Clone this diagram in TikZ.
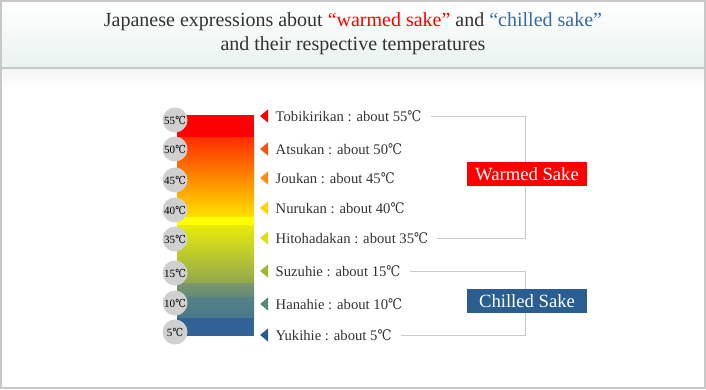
\documentclass[tikz,border=0pt]{standalone}
\usepackage{fontspec}
\setmainfont{Liberation Serif}
\newfontfamily\symfont{DejaVu Serif}
\usetikzlibrary{positioning,shapes.geometric}
\newcommand{\celsius}{{\symfont\scalebox{0.85}[1]{℃}}}
\tikzset{
	temp/.style    = {circle, fill=dotgray, minimum size=18.75pt, inner sep=0pt,
		font=\fontsize{8.3}{9}\selectfont, text=black},
	tri/.style     = {isosceles triangle, isosceles triangle apex angle=80,
		shape border rotate=180, fill=#1, minimum height=6pt, inner sep=0pt},
	lab/.style     = {inner sep=0pt, text=textgray, font=\fontsize{11}{12}\selectfont},
	group/.style   = {fill=#1, text=white, minimum width=90pt, minimum height=18pt,
		inner sep=0pt, font=\fontsize{14}{14}\selectfont},
	bracket/.style = {draw=rulegray, line width=0.75pt}
}
\definecolor{sakered}{RGB}{255,0,0}
\definecolor{sakeblue}{RGB}{42,94,145}
\definecolor{coldblue}{RGB}{55,105,160}
\definecolor{textgray}{RGB}{51,51,51}
\definecolor{rulegray}{RGB}{200,200,200}
\definecolor{headmint}{RGB}{233,243,240}
\definecolor{dotgray}{RGB}{208,208,208}
% bar and marker colours
\definecolor{hotA}{RGB}{255,45,0}
\definecolor{hotB}{RGB}{255,225,0}
\definecolor{yel}{RGB}{255,255,0}
\definecolor{midA}{RGB}{232,235,10}
\definecolor{midB}{RGB}{145,168,80}
\definecolor{coolA}{RGB}{125,152,108}
\definecolor{coolB}{RGB}{98,136,122}
\definecolor{coldA}{RGB}{86,130,132}
\definecolor{coldB}{RGB}{72,120,140}
\definecolor{icy}{RGB}{48,98,150}
\definecolor{mk2}{RGB}{255,80,20}
\definecolor{mk3}{RGB}{255,140,20}
\definecolor{mk4}{RGB}{255,210,0}
\definecolor{mk5}{RGB}{215,225,20}
\definecolor{mk6}{RGB}{160,185,50}
\definecolor{mk7}{RGB}{90,135,120}
\definecolor{mk8}{RGB}{40,90,150}

\begin{document}
\begin{tikzpicture}[x=0.75pt, y=-0.75pt, node distance=5.25pt]
		\useasboundingbox (0,0) rectangle (706,389);
		% header
		\shade[top color=white, bottom color=headmint] (1,1) rectangle (705,67);
		\shade[top color=black!4, bottom color=white] (1,69) rectangle (705,88);
		\draw[rulegray, line width=1.2pt] (1,68) -- (705,68);
		\draw[rulegray, line width=1.5pt] (0.75,0.75) rectangle (705.25,388.25);
		\node[align=center, text=textgray, font=\fontsize{15}{18}\selectfont] (title) at (353,34)
		{Japanese expressions about \textcolor{sakered}{“warmed sake”} and \textcolor{coldblue}{“chilled sake”}\\
			and their respective temperatures};
		
		% temperature bar
		\fill[sakered] (177,115) rectangle (254,137);
		\shade[top color=hotA, bottom color=hotB] (177,137) rectangle (254,217);
		\fill[yel] (177,217) rectangle (254,225);
		\shade[top color=midA, bottom color=midB] (177,225) rectangle (254,283);
		\shade[top color=coolA, bottom color=coolB] (177,283) rectangle (254,297);
		\shade[top color=coldA, bottom color=coldB] (177,297) rectangle (254,318);
		\fill[icy] (177,318) rectangle (254,336);
		
		\draw
		node at (175,120)[temp] (c55) {55\celsius}
		node at (175,149)[temp] (c50) {50\celsius}
		node at (175,180)[temp] (c45) {45\celsius}
		node at (175,210)[temp] (c40) {40\celsius}
		node at (175,239)[temp] (c35) {35\celsius}
		node at (175,273)[temp] (c15) {15\celsius}
		node at (175,303)[temp] (c10) {10\celsius}
		node at (175,332)[temp] (c5) {5\celsius};
		
		% markers and names
		\draw
		node at (265,116)[tri=sakered] (m1) {}
		node at (265,149)[tri=mk2] (m2) {}
		node at (265,178)[tri=mk3] (m3) {}
		node at (265,208)[tri=mk4] (m4) {}
		node at (265,238)[tri=mk5] (m5) {}
		node at (265,271)[tri=mk6] (m6) {}
		node at (265,304)[tri=mk7] (m7) {}
		node at (265,335)[tri=mk8] (m8) {};
		
		\node[lab, right=of m1] (t1) {Tobikirikan : about 55\celsius};
		\node[lab, right=of m2] (t2) {Atsukan : about 50\celsius};
		\node[lab, right=of m3] (t3) {Joukan : about 45\celsius};
		\node[lab, right=of m4] (t4) {Nurukan : about 40\celsius};
		\node[lab, right=of m5] (t5) {Hitohadakan : about 35\celsius};
		\node[lab, right=of m6] (t6) {Suzuhie : about 15\celsius};
		\node[lab, right=of m7] (t7) {Hanahie : about 10\celsius};
		\node[lab, right=of m8] (t8) {Yukihie : about 5\celsius};
		
		% brackets
		\coordinate (rx) at (525,0);
		\draw[bracket] ([xshift=6.75pt]t1.east) -- (t1.east -| rx) -- (t5.east -| rx) -- ([xshift=6.75pt]t5.east);
		\draw[bracket] ([xshift=6.75pt]t6.east) -- (t6.east -| rx) -- (t8.east -| rx) -- ([xshift=6.75pt]t8.east);
		
		\node[group=sakered] (warm) at (527,174) {Warmed Sake};
		\node[group=sakeblue] (chill) at (527,301) {Chilled Sake};
		
\end{tikzpicture}
\end{document}
